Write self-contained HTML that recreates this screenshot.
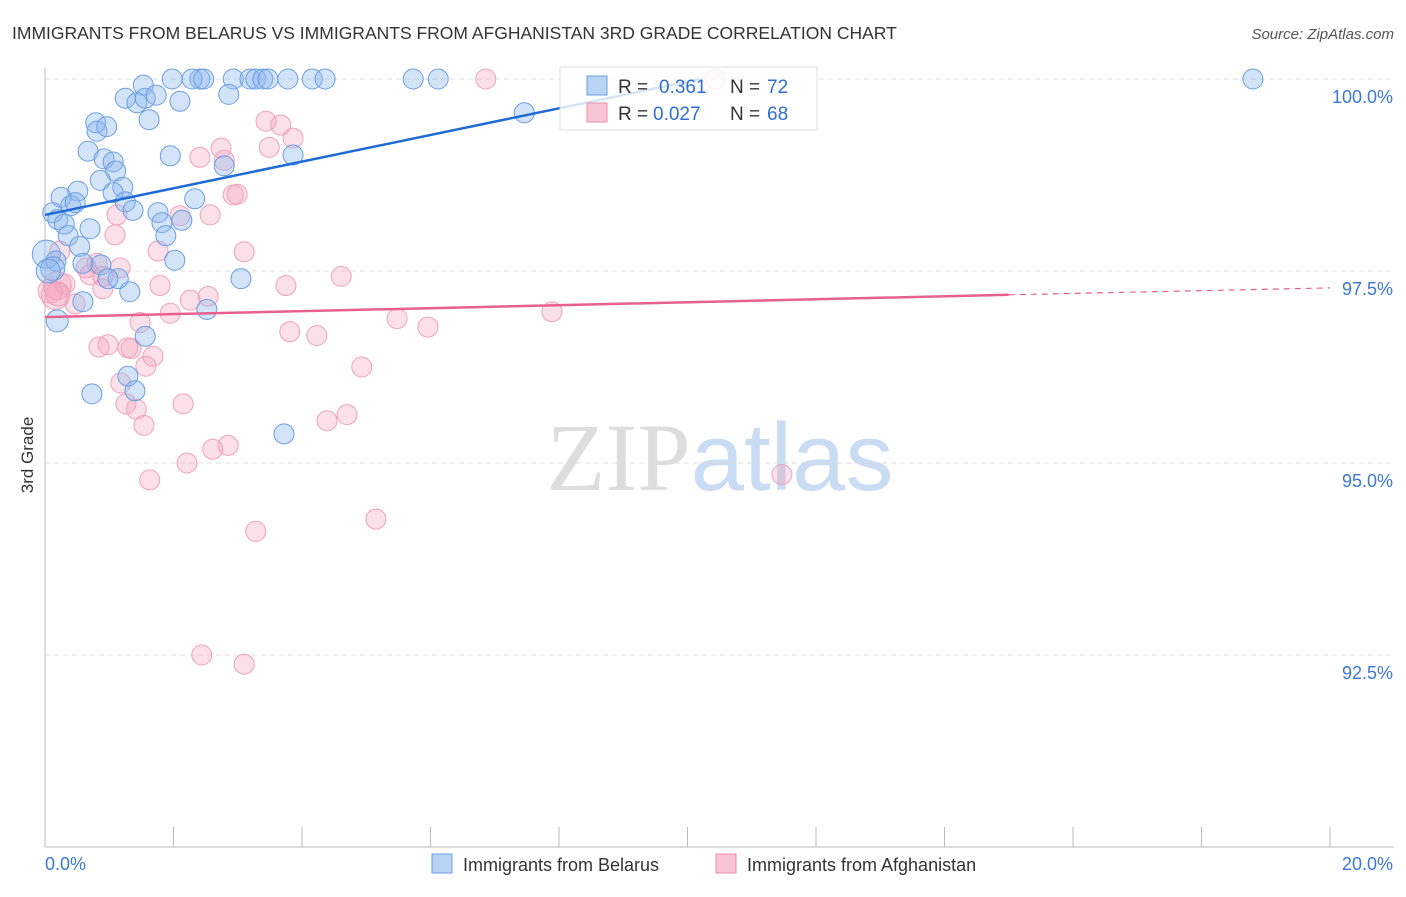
<!DOCTYPE html>
<html><head><meta charset="utf-8"><style>
body{margin:0;background:#fff;font-family:"Liberation Sans",sans-serif;}
svg text{font-family:"Liberation Sans",sans-serif;}
</style></head><body>
<svg id="chart" width="1406" height="892" xmlns="http://www.w3.org/2000/svg">
<text x="12" y="39" font-size="17.5" fill="#333">IMMIGRANTS FROM BELARUS VS IMMIGRANTS FROM AFGHANISTAN 3RD GRADE CORRELATION CHART</text>
<text x="1394" y="39" font-size="15" fill="#555" text-anchor="end" font-style="italic">Source: ZipAtlas.com</text>
<text x="720" y="490" font-size="96" text-anchor="middle"><tspan fill="#ddd" font-family="Liberation Serif">ZIP</tspan><tspan fill="#c9dcf3">atlas</tspan></text>
<g id="grid"></g>
<g id="axes"></g>
<g id="points"></g>
<g id="trend"></g>
<text transform="translate(33,455) rotate(-90)" font-size="17" fill="#333" text-anchor="middle">3rd Grade</text>
<g>
<rect x="560" y="67" width="257" height="63" fill="#fff" fill-opacity="0.82" stroke="#ddd"/>
<rect x="587" y="76" width="20" height="19" fill="#b8d4f5" stroke="#6a9fe0"/>
<rect x="587" y="103" width="20" height="19" fill="#f9c5d5" stroke="#ea8fae"/>
<text x="618" y="93" font-size="19" fill="#333">R =</text>
<text x="659" y="93" font-size="19" fill="#2f6fd0">0.361</text>
<text x="730" y="93" font-size="19" fill="#333">N =</text>
<text x="767" y="93" font-size="19" fill="#2f6fd0">72</text>
<text x="618" y="120" font-size="19" fill="#333">R =</text>
<text x="653" y="120" font-size="19" fill="#2f6fd0">0.027</text>
<text x="730" y="120" font-size="19" fill="#333">N =</text>
<text x="767" y="120" font-size="19" fill="#2f6fd0">68</text>
</g>
<g>
<rect x="432" y="854" width="20" height="19" fill="#b8d4f5" stroke="#6a9fe0"/>
<text x="463" y="871" font-size="18" fill="#333">Immigrants from Belarus</text>
<rect x="716" y="854" width="20" height="19" fill="#f9c5d5" stroke="#ea8fae"/>
<text x="747" y="871" font-size="18" fill="#333">Immigrants from Afghanistan</text>
</g>
</svg>
<script>
const xTicks=[0,2,4,6,8,10,12,14,16,18,20];
const yTicks=[92.5,95.0,97.5,100.0];
const blueX=[1.53,1.98,2.41,2.29,2.47,2.93,3.19,3.28,3.39,3.47,3.78,4.16,4.36,5.73,6.12,18.80,1.25,1.43,1.56,1.73,2.10,2.86,1.62,0.79,0.81,0.96,0.67,0.92,1.06,1.95,2.79,3.86,1.10,0.86,1.21,0.51,1.06,0.25,1.25,1.37,0.40,0.47,0.12,0.20,2.33,1.76,1.82,2.13,0.30,0.36,0.70,1.88,0.54,0.02,0.17,0.87,2.02,0.59,1.14,0.98,3.05,1.32,0.59,2.52,0.19,1.56,1.29,1.40,0.73,3.72,7.46,0.12,0.05];
const blueY=[99.92,100,100,100,100,100,100,100,100,100,100,100,100,100,100,100,99.75,99.69,99.75,99.79,99.71,99.80,99.47,99.43,99.32,99.38,99.06,98.96,98.92,99.00,98.87,99.01,98.80,98.68,98.59,98.54,98.52,98.46,98.40,98.29,98.35,98.39,98.26,98.17,98.44,98.26,98.13,98.16,98.11,97.96,98.05,97.96,97.82,97.72,97.63,97.58,97.64,97.60,97.40,97.40,97.40,97.23,97.10,97.00,96.85,96.65,96.13,95.94,95.90,95.38,99.56,97.53,97.50];
const blueR=[10,10,10,10,10,10,10,10,10,10,10,10,10,10,10,10,10,10,10,10,10,10,10,10,10,10,10,10,10,10,10,10,10,10,10,10,10,10,10,10,10,10,10,10,10,10,10,10,10,10,10,10,10,14,10,10,10,10,10,10,10,10,10,10,11,10,10,10,10,10,10,12,12];
const pinkX=[6.86,10.43,3.44,3.67,3.86,3.49,2.74,2.41,2.79,2.99,2.93,2.57,2.10,1.12,1.09,3.10,1.76,0.81,0.70,1.17,0.90,0.64,4.61,3.75,1.79,2.54,2.26,1.95,0.90,0.47,0.19,0.16,0.08,0.23,7.89,5.48,5.96,1.48,3.81,4.23,0.84,0.98,1.29,1.34,1.68,4.93,1.57,1.18,1.26,1.42,2.15,4.70,4.39,1.54,2.85,2.61,2.21,1.63,11.47,5.15,3.28,2.44,3.10,0.20,0.31];
const pinkY=[100,100,99.45,99.40,99.23,99.11,99.10,98.98,98.94,98.50,98.49,98.23,98.22,98.23,97.97,97.75,97.76,97.60,97.45,97.54,97.43,97.54,97.43,97.31,97.31,97.17,97.12,96.95,97.27,97.07,97.31,97.18,97.24,97.76,96.97,96.88,96.77,96.83,96.71,96.66,96.51,96.54,96.50,96.49,96.39,96.25,96.26,96.04,95.77,95.70,95.77,95.63,95.55,95.49,95.23,95.18,95.00,94.78,94.85,94.27,94.11,92.50,92.38,97.20,97.33];
const pinkR=[10,10,10,10,10,10,10,10,10,10,10,10,10,10,10,10,10,10,10,10,10,10,10,10,10,10,10,10,10,10,14,14,12,10,10,10,10,10,10,10,10,10,10,10,10,10,10,10,10,10,10,10,10,10,10,10,10,10,10,10,10,10,10,12,10];
const blueTrend=[0,98.23,10.2,100.0];
const pinkTrend=[0,96.90,15,97.19,20,97.28];
const NS="http://www.w3.org/2000/svg";
const X0=45,X1=1330,YT=79,YB=847;
function sx(v){return X0+(v-0)/20*(X1-X0);}
function sy(v){return YT+(100-v)/10*(YB-YT);}
function mk(tag,attrs,parent){const e=document.createElementNS(NS,tag);for(const k in attrs)e.setAttribute(k,attrs[k]);document.getElementById(parent).appendChild(e);return e;}
yTicks.forEach(t=>{
 const l=mk('line',{x1:X0,x2:1394,y1:sy(t),y2:sy(t),stroke:'#ddd','stroke-dasharray':'5,4'},'grid');
 
 
 const tx=mk('text',{x:1393,y:sy(t)+24,'font-size':18,fill:'#3a78d4','text-anchor':'end'},'axes');
 tx.textContent=t.toFixed(1)+'%';
 
 
});
const ax=mk('line',{x1:X0,x2:X0,y1:68,y2:YB,stroke:'#bbb'},'axes');


const bx=mk('line',{x1:X0,x2:1394,y1:YB,y2:YB,stroke:'#bbb'},'axes');


xTicks.forEach(t=>{
 const l=mk('line',{x1:sx(t),x2:sx(t),y1:827,y2:YB,stroke:'#bbb'},'axes');
 
 
});
[[0,'start',45],[20,'end',1393]].forEach(([t,a,x])=>{
 const tx=mk('text',{x:x,y:870,'font-size':18,fill:'#3a78d4','text-anchor':a},'axes');
 tx.textContent=t.toFixed(1)+'%';
 
 
});
pinkX.forEach((v,i)=>{
 const c=mk('circle',{cx:sx(v),cy:sy(pinkY[i]),r:pinkR[i],fill:'rgba(244,160,186,0.32)',stroke:'#f0a0bb','stroke-width':1},'points');
 
 
});
blueX.forEach((v,i)=>{
 const c=mk('circle',{cx:sx(v),cy:sy(blueY[i]),r:blueR[i],fill:'rgba(140,185,240,0.38)',stroke:'#6b9de0','stroke-width':1},'points');
 
 
});
const bl=mk('line',{x1:sx(blueTrend[0]),y1:sy(blueTrend[1]),x2:sx(blueTrend[2]),y2:sy(blueTrend[3]),stroke:'#1f6bd6','stroke-width':2.5},'trend');


const pl=mk('line',{x1:sx(pinkTrend[0]),y1:sy(pinkTrend[1]),x2:sx(pinkTrend[2]),y2:sy(pinkTrend[3]),stroke:'#e8608e','stroke-width':2.5},'trend');


const pd=mk('line',{x1:sx(pinkTrend[2]),y1:sy(pinkTrend[3]),x2:sx(pinkTrend[4]),y2:sy(pinkTrend[5]),stroke:'#e8608e','stroke-width':1.2,'stroke-dasharray':'6,5'},'trend');


</script>
</body></html>
